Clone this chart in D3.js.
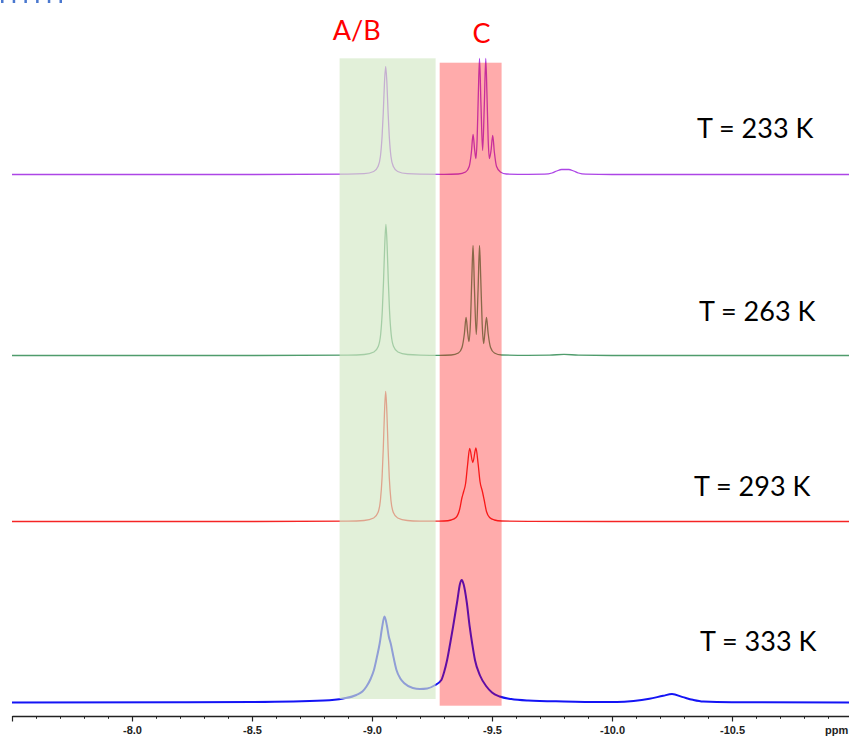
<!DOCTYPE html>
<html>
<head>
<meta charset="utf-8">
<script src="https://cdn.jsdelivr.net/npm/d3@7"></script>
<style>
  html, body { margin: 0; padding: 0; background: #fff; overflow: hidden; }
  svg { display: block; }
</style>
</head>
<body>
<svg id="chart" width="849" height="740"></svg>
<script>
// Variable-temperature 1H NMR, hydride region. Points are [ppm, intensity (a.u.)].
const temperatures = ["T = 233 K", "T = 263 K", "T = 293 K", "T = 333 K"];
const stackOffsets = [528, 347, 181, 0];

const spectrum233 = [
  [-7.5, 0], [-8.5, 0], [-8.9, 0.3],
  [-8.967, 0.8], [-9.007, 3], [-9.025, 8], [-9.035, 18], [-9.042, 38], [-9.047, 62], [-9.052, 92],
  [-9.057, 108], [-9.062, 92], [-9.067, 62], [-9.072, 38], [-9.079, 18], [-9.089, 8], [-9.107, 3], [-9.147, 0.8],
  [-9.2, 0.3], [-9.3, 0.2], [-9.36, 0.5], [-9.39, 2.5], [-9.405, 8], [-9.414, 22], [-9.421, 40], [-9.428, 24],
  [-9.433, 16], [-9.438, 35], [-9.443, 80], [-9.448, 116], [-9.454, 70], [-9.461, 24], [-9.468, 70],
  [-9.474, 116], [-9.479, 80], [-9.484, 35], [-9.489, 16], [-9.496, 24], [-9.503, 39], [-9.510, 22],
  [-9.519, 8], [-9.535, 2.5], [-9.56, 0.5], [-9.65, 0.2],
  [-9.72, 0.3], [-9.75, 1.5], [-9.77, 3.5], [-9.79, 5], [-9.82, 5], [-9.84, 3.5], [-9.86, 1.5], [-9.89, 0.3],
  [-10.0, 0], [-11.0, 0]
];

const spectrum263 = [
  [-7.5, 0], [-8.5, 0], [-8.9, 0.4],
  [-8.968, 1], [-9.008, 3.5], [-9.026, 9], [-9.036, 21], [-9.043, 45], [-9.048, 74], [-9.053, 110],
  [-9.058, 131], [-9.063, 110], [-9.068, 74], [-9.073, 45], [-9.080, 21], [-9.090, 9], [-9.108, 3.5], [-9.148, 1],
  [-9.2, 0.4], [-9.28, 0.2], [-9.33, 0.5], [-9.36, 2.5], [-9.375, 8], [-9.385, 22], [-9.392, 38], [-9.399, 22],
  [-9.404, 14], [-9.410, 32], [-9.416, 78], [-9.421, 110], [-9.427, 66], [-9.4345, 21], [-9.442, 66],
  [-9.448, 110], [-9.453, 78], [-9.459, 32], [-9.465, 12], [-9.470, 22], [-9.477, 38], [-9.484, 22],
  [-9.494, 8], [-9.51, 2.5], [-9.54, 0.5], [-9.65, 0.2],
  [-9.74, 0.3], [-9.8, 1.2], [-9.86, 0.3], [-10.0, 0], [-11.0, 0]
];

const spectrum293 = [
  [-7.5, 0], [-8.5, 0], [-8.9, 0.4],
  [-8.967, 1], [-9.007, 3.5], [-9.025, 9], [-9.035, 21], [-9.042, 44], [-9.047, 73], [-9.052, 109],
  [-9.057, 130], [-9.062, 109], [-9.067, 73], [-9.072, 44], [-9.079, 21], [-9.089, 9], [-9.107, 3.5], [-9.147, 1],
  [-9.2, 0.4], [-9.26, 0.3], [-9.30, 0.5], [-9.33, 1.5], [-9.35, 4], [-9.365, 12], [-9.375, 24], [-9.382, 30],
  [-9.390, 38], [-9.398, 56], [-9.407, 73], [-9.420, 59], [-9.433, 73.5], [-9.442, 58], [-9.450, 40],
  [-9.460, 30], [-9.467, 22], [-9.477, 10], [-9.49, 4], [-9.51, 1.5], [-9.54, 0.5], [-9.65, 0.2],
  [-10.0, 0], [-11.0, 0]
];

const spectrum333 = [
  [-7.5, 0], [-8.2, 0.2], [-8.5, 0.5], [-8.80, 2], [-8.88, 4], [-8.935, 7.5], [-8.96, 11], [-8.977, 16],
  [-8.995, 24], [-9.008, 32.5], [-9.02, 45], [-9.032, 59], [-9.042, 75], [-9.052, 86], [-9.062, 77],
  [-9.07, 66], [-9.078, 59], [-9.09, 45], [-9.102, 32.5], [-9.118, 24], [-9.136, 19], [-9.17, 14.5],
  [-9.2, 13.5], [-9.23, 14], [-9.26, 17], [-9.289, 22.5], [-9.30, 30], [-9.313, 42.5], [-9.325, 58],
  [-9.338, 76], [-9.356, 102.5], [-9.366, 118], [-9.374, 122.5], [-9.382, 118], [-9.395, 100],
  [-9.407, 76], [-9.418, 58], [-9.429, 42.5], [-9.45, 27], [-9.477, 16], [-9.50, 10], [-9.532, 6],
  [-9.58, 3.5], [-9.65, 2], [-9.8, 1], [-9.95, 0.5], [-10.02, 0.5], [-10.09, 1.5], [-10.156, 3.7],
  [-10.213, 6.7], [-10.25, 8.4], [-10.295, 5.4], [-10.337, 2.7], [-10.38, 1], [-10.5, 0.3], [-11.0, 0]
];

const spectra = [spectrum233, spectrum263, spectrum293, spectrum333];
const traceColors = ["#ad45e6", "#4f9c6c", "#f52424", "#1414f5"];

// Shaded chemical-shift windows
const regionNames = ["A/B", "C"];
const regionFrom = [-8.865, -9.282];
const regionTo = [-9.265, -9.540];

// Axis ticks
const majorTicks = [-7.5, -8.0, -8.5, -9.0, -9.5, -10.0, -10.5];
const tickLabels = ["", "-8.0", "-8.5", "-9.0", "-9.5", "-10.0", "-10.5"];

const svg = d3.select("#chart");

const x = d3.scaleLinear().domain([-7.5, -11.0]).range([12, 852]);
const y = d3.scaleLinear().domain([0, 700]).range([702.5, 2.5]);

// selection-handle dots along the top edge
svg.append("line")
  .attr("x1", 1).attr("x2", 64).attr("y1", 1.5).attr("y2", 1.5)
  .attr("stroke", "#4a78cf").attr("stroke-width", 3)
  .attr("stroke-dasharray", "2.5,9.2");

// spectra
const traces = svg.append("g");
spectra.forEach((pts, i) => {
  const sorted = pts.slice().sort((a, b) => b[0] - a[0]);
  const line = d3.line()
    .x(d => x(d[0]))
    .y(d => y(stackOffsets[i] + d[1]))
    .curve(d3.curveMonotoneX);
  traces.append("path")
    .datum(sorted)
    .attr("d", line)
    .attr("fill", "none")
    .attr("stroke", traceColors[i])
    .attr("stroke-width", i === 3 ? 2 : 1.3)
    .attr("stroke-linejoin", "round");
});

// translucent region boxes laid over the traces
const regionFill = ["rgb(211,232,196)", "rgb(255,0,0)"];
const regionOpacity = [0.65, 0.33];
const regionTop = [58.3, 62.7];
const regionBottom = [699, 705.7];
regionNames.forEach((name, i) => {
  svg.append("rect")
    .attr("x", x(regionFrom[i]))
    .attr("width", x(regionTo[i]) - x(regionFrom[i]))
    .attr("y", regionTop[i])
    .attr("height", regionBottom[i] - regionTop[i])
    .attr("fill", regionFill[i])
    .attr("fill-opacity", regionOpacity[i]);
});

// region labels
const regionLabelPpm = [-8.936, -9.456];
const regionLabelY = [40, 42.7];
regionNames.forEach((name, i) => {
  svg.append("text")
    .attr("x", x(regionLabelPpm[i]))
    .attr("y", regionLabelY[i])
    .attr("text-anchor", "middle")
    .attr("font-family", "Lato, 'Noto Sans', sans-serif")
    .attr("font-size", 27)
    .attr("fill", "#ff0000")
    .text(name);
});

// temperature labels
const tempLabelX = [697, 699, 694, 700];
const tempLabelY = [138, 321, 496, 651];
temperatures.forEach((t, i) => {
  svg.append("text")
    .attr("x", tempLabelX[i])
    .attr("y", tempLabelY[i])
    .attr("font-family", "Lato, 'Noto Sans', sans-serif")
    .attr("font-size", 27)
    .attr("fill", "#000")
    .text(t);
});

// ppm axis
const axisY = 716;
const minorAxis = d3.axisBottom(x)
  .tickValues(d3.range(-7.5, -11.05, -0.1))
  .tickSize(2.8).tickSizeOuter(0).tickFormat("");
const gMinor = svg.append("g").attr("transform", `translate(0,${axisY})`).call(minorAxis);
gMinor.select(".domain").remove();
gMinor.selectAll("line").attr("stroke", "#222").attr("stroke-width", 1);

const majorAxis = d3.axisBottom(x)
  .tickValues(majorTicks)
  .tickSizeInner(5.5).tickSizeOuter(0).tickPadding(4.5)
  .tickFormat((d, i) => tickLabels[i]);
const gMajor = svg.append("g").attr("transform", `translate(0,${axisY})`).call(majorAxis);
gMajor.select(".domain").attr("stroke", "#222").attr("stroke-width", 1.3);
gMajor.selectAll("line").attr("stroke", "#222").attr("stroke-width", 1.2);
gMajor.selectAll("text")
  .attr("font-family", "'Liberation Sans', Arial, sans-serif")
  .attr("font-weight", "bold")
  .attr("font-size", 11)
  .attr("fill", "#222");

svg.append("text")
  .attr("x", 825).attr("y", 734)
  .attr("font-family", "'Liberation Sans', Arial, sans-serif")
  .attr("font-weight", "bold")
  .attr("font-size", 11)
  .attr("fill", "#222")
  .text("ppm");
</script>
</body>
</html>
